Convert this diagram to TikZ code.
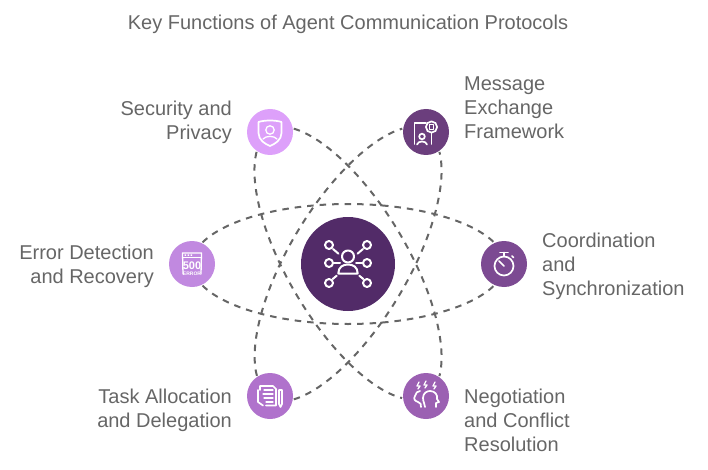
\documentclass[tikz,border=0pt]{standalone}
\usepackage{fontspec}
\setmainfont{Liberation Sans}
\definecolor{txt}{HTML}{666666}
\definecolor{dashc}{HTML}{666666}
\definecolor{chub}{HTML}{522B68}
\definecolor{cmsg}{HTML}{6B3E7D}
\definecolor{ccoo}{HTML}{7C4A92}
\definecolor{cneg}{HTML}{9B60B2}
\definecolor{ctask}{HTML}{B072CC}
\definecolor{cerr}{HTML}{C189E0}
\definecolor{csec}{HTML}{DDA0FA}
\tikzset{
  x=1pt,y=1pt,
  orbit/.style={draw=dashc,line width=2pt,dash pattern=on 6.5pt off 6pt},
  dot/.style={circle,minimum size=46pt,inner sep=0pt,outer sep=1pt},
  hubdot/.style={circle,minimum size=94pt,inner sep=0pt,fill=chub},
  lab/.style={text=txt,inner sep=0pt,font=\fontsize{20}{24}\selectfont},
  labl/.style={lab,anchor=west,align=left},
  labr/.style={lab,anchor=east,align=right},
  ic/.style={draw=white,line width=1.7pt,fill=none,line cap=round,line join=round},
  icn/.style={draw=white,line width=1.3pt,fill=none,line cap=round,line join=round}
}
\begin{document}
\begin{tikzpicture}
\useasboundingbox (0,0) rectangle (708,469);
\node[text=txt,inner sep=0pt,font=\fontsize{20}{24}\selectfont] (title) at (348,445) {Key Functions of Agent Communication Protocols};

\node[hubdot] (hub) at (348,205) {};
\node[dot,fill=csec] (sec) at (270,337) {};
\node[dot,fill=cmsg] (msg) at (426,337) {};
\node[dot,fill=cerr] (err) at (192,205) {};
\node[dot,fill=ccoo] (coo) at (504,205) {};
\node[dot,fill=ctask] (task) at (270,73) {};
\node[dot,fill=cneg] (neg) at (426,73) {};

% orbits
\begin{scope}[shift={(hub)}]
  \draw[orbit] (err.64.4) .. controls (-122.2,44.8) and (-64.3,60) .. (0,60) .. controls (64.3,60) and (122.2,44.8) .. (coo.115.6);
  \draw[orbit] (err.-64.4) .. controls (-122.2,-44.8) and (-64.3,-60) .. (0,-60) .. controls (64.3,-60) and (122.2,-44.8) .. (coo.-115.6);
\end{scope}
\begin{scope}[shift={(hub)},rotate=-59.4]
  \draw[orbit] (sec.8) .. controls (-120,44.8) and (-63.2,60) .. (0,60) .. controls (63.2,60) and (120,44.8) .. (neg.56.2);
  \draw[orbit] (sec.-124) .. controls (-120,-44.8) and (-63.2,-60) .. (0,-60) .. controls (63.2,-60) and (120,-44.8) .. (neg.-175);
\end{scope}
\begin{scope}[shift={(hub)},rotate=59.4]
  \draw[orbit] (task.123.8) .. controls (-120,44.8) and (-63.2,60) .. (0,60) .. controls (63.2,60) and (120,44.8) .. (msg.172);
  \draw[orbit] (task.-8) .. controls (-120,-44.8) and (-63.2,-60) .. (0,-60) .. controls (63.2,-60) and (120,-44.8) .. (msg.-56.2);
\end{scope}

% labels
\node[labr] (lsec) at (232,347) {Security and\\Privacy};
\node[labl] (lmsg) at (464,361) {Message\\Exchange\\Framework};
\node[labr] (lerr) at (154,203) {Error Detection\\and Recovery};
\node[labl] (lcoo) at (542,203) {Coordination\\and\\Synchronization};
\node[labr] (ltask) at (232,59) {Task Allocation\\and Delegation};
\node[labl] (lneg) at (464,49) {Negotiation\\and Conflict\\Resolution};

% hub icon
\begin{scope}[shift={(hub)},yscale=-1]
  \draw[ic,line width=2pt] (0,-7.5) circle (6);
  \draw[ic,line width=2pt] (-9.7,9.5) .. controls (-9.7,3) and (-5,0.5) .. (0,0.5) .. controls (5,0.5) and (9.7,3) .. (9.7,9.5) -- cycle;
  \foreach \sx in {-1,1}{
    \foreach \sy in {-19,-1,19} \draw[ic,line width=2pt] (\sx*19,\sy) circle (4);
    \draw[ic,line width=2pt] (\sx*15,-15) -- (\sx*9.5,-10.3);
    \draw[ic,line width=2pt] (\sx*15,-1) -- (\sx*8,-1);
    \draw[ic,line width=2pt] (\sx*15.3,15) -- (\sx*11.3,11.7);
  }
\end{scope}

% security icon
\begin{scope}[shift={(sec)},yscale=-1]
  \draw[ic] (-11.5,-10) .. controls (-5,-12) and (5,-12) .. (11.5,-10) -- (11.5,1) .. controls (11.5,8) and (5,12) .. (0,14) .. controls (-5,12) and (-11.5,8) .. (-11.5,1) -- cycle;
  \draw[icn] (0,-2) circle (4.2);
  \draw[icn] (-7,7) .. controls (-4,3.5) and (4,3.5) .. (7,7);
\end{scope}

% message icon
\begin{scope}[shift={(msg)},yscale=-1]
  \draw[ic] (0,-9) -- (-11.5,-9) -- (-11.5,12);
  \draw[ic] (5.5,1) -- (5.5,12);
  \draw[ic] (5.5,-5) circle (5.6);
  \draw[icn] (3.4,-7.2) rectangle (7.6,-2.8);
  \draw[ic] (-4,4.5) circle (2.8);
  \draw[ic] (-9,12.5) .. controls (-8,8.5) and (0,8.5) .. (1,12.5);
\end{scope}

% error icon
\begin{scope}[shift={(err)},yscale=-1]
  \draw[icn] (-9,10) -- (-9.5,-11) -- (9.5,-11) -- (9,10);
  \draw[icn] (-9.5,-6.5) -- (9.5,-6.5);
  \fill[white] (-7.5,-9.6) rectangle +(1.5,1.5) (-4.5,-9.6) rectangle +(1.5,1.5) (-1.5,-9.6) rectangle +(1.5,1.5);
  \node[text=white,inner sep=0pt,font=\fontsize{11}{11}\selectfont\bfseries] (e500) at (0,2) {500};
  \node[text=white,inner sep=0pt,font=\fontsize{5}{5}\selectfont\bfseries] (eerr) at (0,9.5) {ERROR};
\end{scope}

% stopwatch icon
\begin{scope}[shift={(coo)},yscale=-1]
  \draw[ic] (0,2) circle (9.5);
  \draw[ic] (-4,-11.5) -- (4,-11.5);
  \draw[ic] (0,-11.5) -- (0,-7.5);
  \draw[ic] (8,-8) -- (9.5,-6.5);
  \draw[ic] (0,2) -- (-5,-3);
\end{scope}

% task icon
\begin{scope}[shift={(task)},yscale=-1]
  \draw[ic] (-10,-6) -- (-10,-10) -- (3,-10) -- (6,-7) -- (6,9.5) -- (-4,9.5);
  \draw[ic] (-12,-6) -- (-12,6) -- (-7,9.5);
  \draw[icn] (-6,-6) -- (3,-6) (-7,-2) -- (3,-2) (-6,2) -- (3,2) (-4,6) -- (3,6);
  \draw[ic] (9,-6) -- (9,8) -- (10.5,11) -- (12,8) -- (12,-6) -- cycle;
\end{scope}

% negotiation icon
\begin{scope}[shift={(neg)},yscale=-1]
  \draw[ic] (-5,11) .. controls (-5,8) and (-5,7) .. (-8,6) .. controls (-11,5) and (-13,3) .. (-11,0) .. controls (-11,-3) and (-8,-5) .. (-6,-5);
  \draw[ic] (-1,11) .. controls (-1,8) and (-3,6) .. (-3,2) .. controls (-3,-3) and (1,-5) .. (4,-5) .. controls (9,-5) and (12,-1) .. (11,3) -- (13,6) -- (10,7) -- (10,11);
  \draw[icn] (-7,-14) -- (-9,-10) -- (-6,-10) -- (-8,-7);
  \draw[icn] (0,-15) -- (-2,-11) -- (1,-11) -- (-1,-8);
  \draw[icn] (9,-14) -- (7,-10) -- (10,-10) -- (8,-7);
\end{scope}
\end{tikzpicture}
\end{document}
